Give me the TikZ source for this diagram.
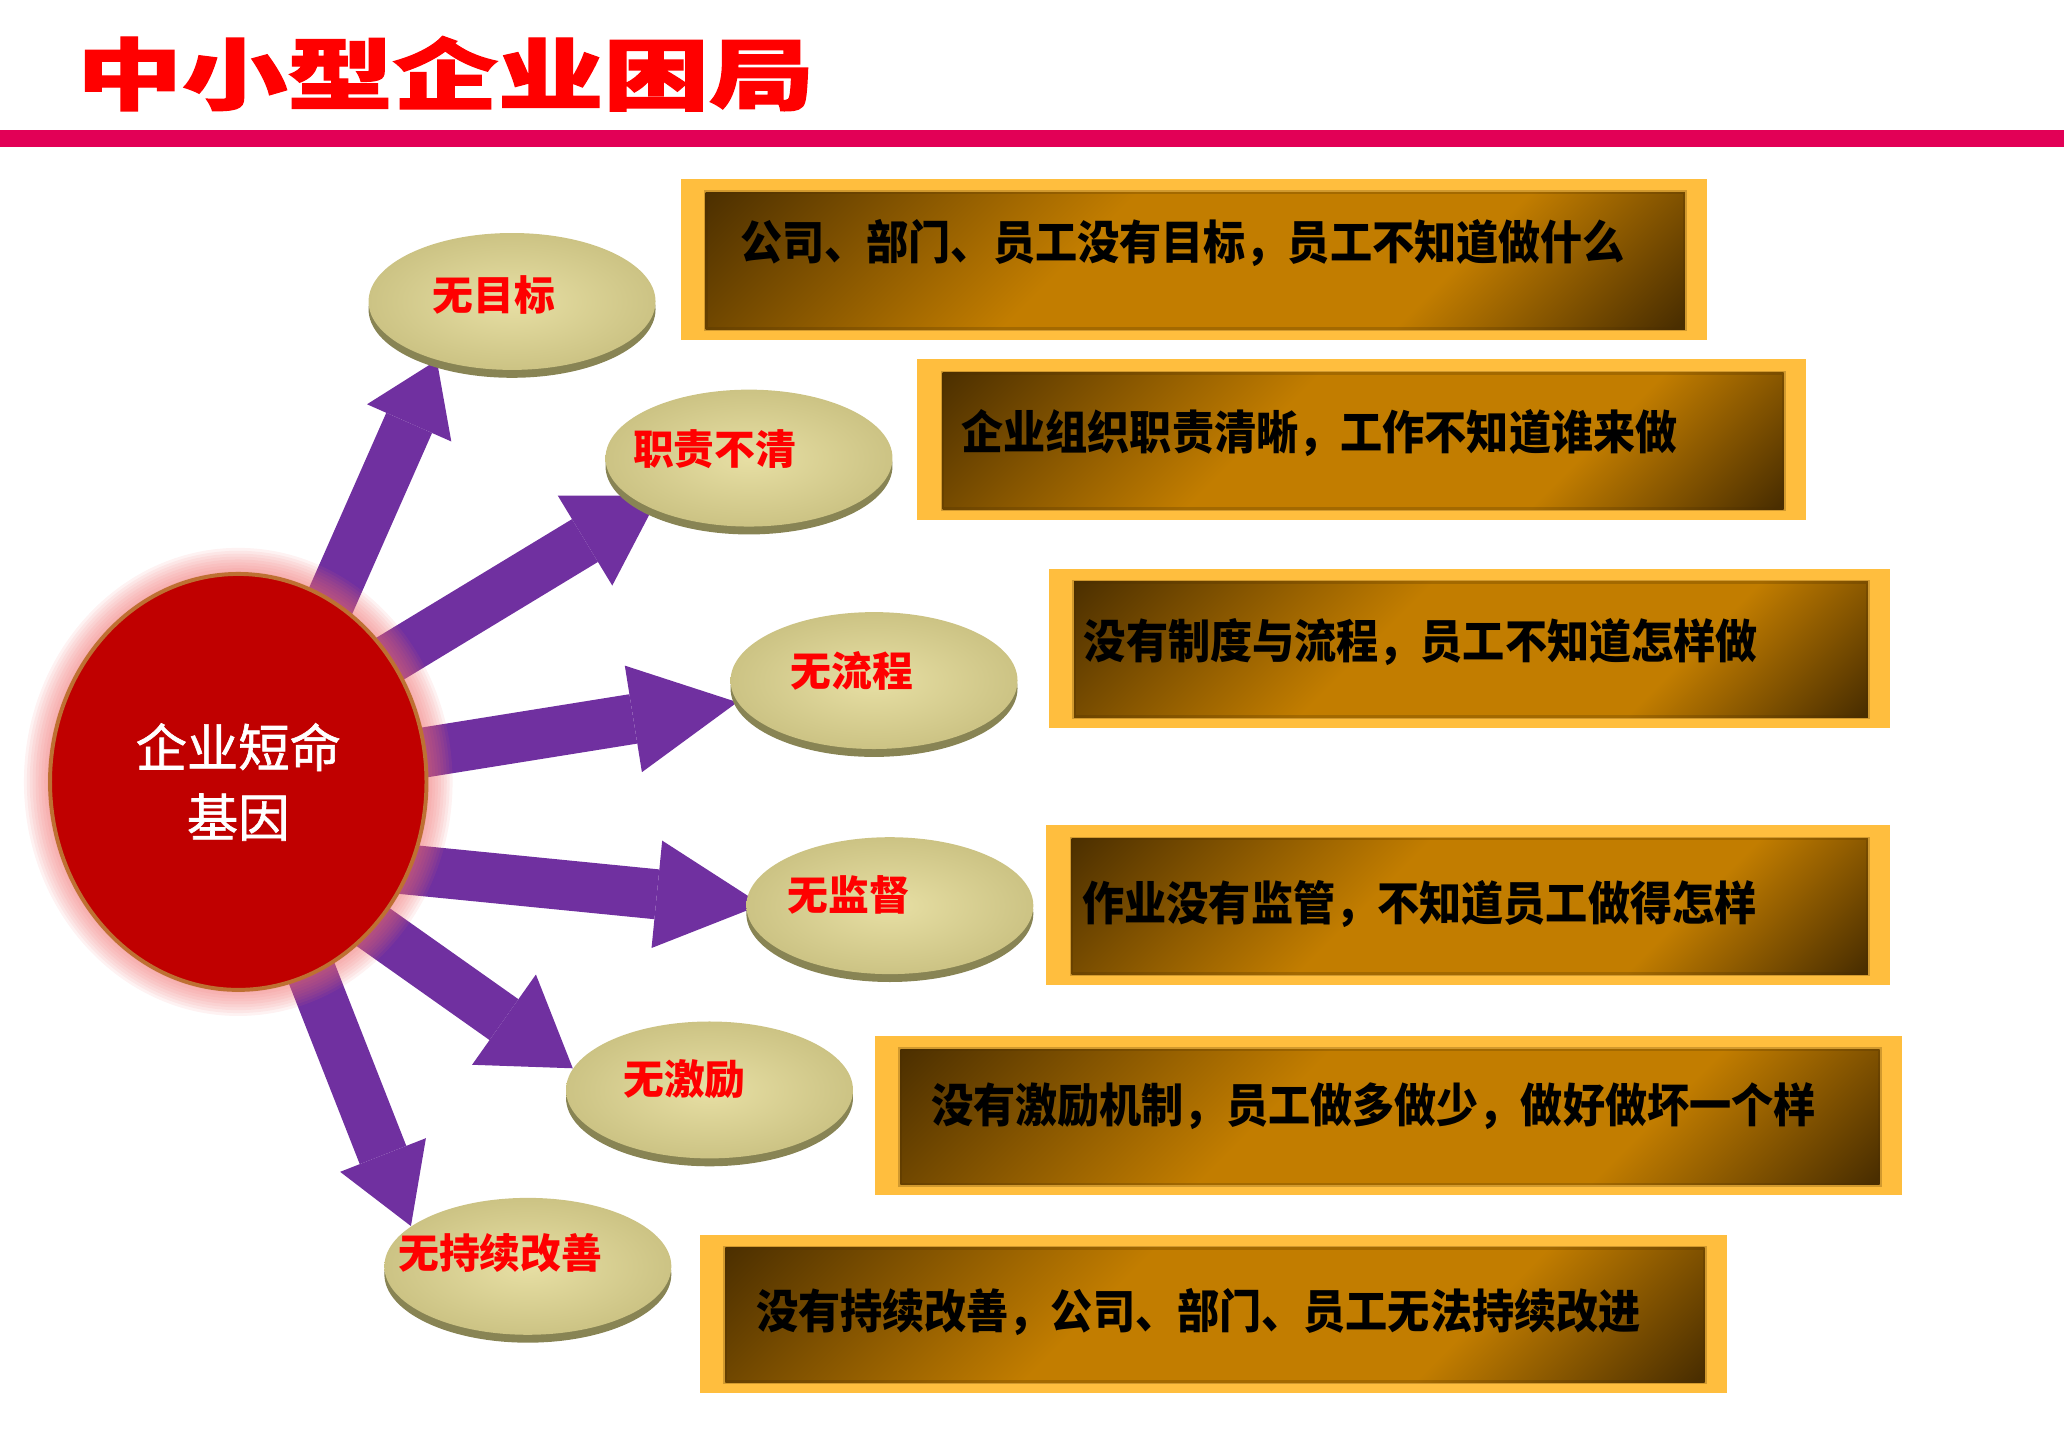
\documentclass[tikz,border=0pt]{standalone}
\usepackage{fontspec}
\usepackage{graphicx}
\setmainfont{Noto Sans CJK SC}
\newfontfamily\titlefont{Noto Sans CJK SC}[BoldFeatures={FakeBold=1.5}]
\newfontfamily\hubfont{Noto Sans CJK SC}[FakeBold=1.2]
\usetikzlibrary{arrows.meta,shapes.geometric,backgrounds}
\definecolor{titlered}{RGB}{255,0,0}
\definecolor{barred}{RGB}{226,0,86}
\definecolor{purp}{RGB}{112,48,160}
\definecolor{circred}{RGB}{192,0,0}
\definecolor{circedge}{RGB}{190,112,50}
\definecolor{glowc}{RGB}{240,110,110}
\definecolor{discface}{RGB}{231,223,164}
\definecolor{discedge}{RGB}{204,195,132}
\definecolor{discrim}{RGB}{136,132,84}
\definecolor{boxframe}{RGB}{255,190,62}
\definecolor{boxdark}{RGB}{74,46,0}
\definecolor{boxmid}{RGB}{194,125,0}
\pgfdeclareverticalshading{boxshade}{100bp}{color(0bp)=(boxdark); color(15bp)=(boxdark); color(33bp)=(boxmid); color(58bp)=(boxmid); color(86bp)=(boxdark); color(100bp)=(boxdark)}
\begin{document}
\begin{tikzpicture}[x=0.5pt,y=-0.5pt,
  arr/.style={draw=purp, line width=19pt, shorten <=-30pt},
  disc/.style={ellipse, minimum width=109pt, minimum height=52pt, inner sep=0pt, inner color=discface, outer color=discedge},
  disclabel/.style={text=titlered, font=\bfseries\fontsize{15.5}{18}\selectfont, inner sep=0pt},
  boxtext/.style={anchor=west, text=black, font=\bfseries\fontsize{16}{19}\selectfont, inner sep=0pt},
  hub/.style={ellipse, minimum width=143pt, minimum height=158pt, fill=circred, draw=circedge, line width=1.5pt, text=white, align=center, font=\hubfont\fontsize{19.5}{26.5}\selectfont}
]
\useasboundingbox (0,0) rectangle (1568,1094);

% title and bar
\node[anchor=west, text=titlered, font=\titlefont\bfseries\fontsize{40}{44}\selectfont, inner sep=0pt] (title) at (58,56) {\scalebox{1}[0.74]{中小型企业困局}};
\fill[barred] (0,99) rectangle (1568,112);

% boxes
\foreach \n/\xa/\ya/\xb/\yb/\tx/\ty/\t in {
  1/517/136/1297/258/562/185/{公司、部门、员工没有目标，员工不知道做什么},
  2/697/273/1372/395/730/329/{企业组织职责清晰，工作不知道谁来做},
  3/797/432/1436/553/823/488/{没有制度与流程，员工不知道怎样做},
  4/795/627/1436/748/822/687/{作业没有监管，不知道员工做得怎样},
  5/665/787/1445/908/707/840/{没有激励机制，员工做多做少，做好做坏一个样},
  6/532/938/1312/1058/574/997/{没有持续改善，公司、部门、员工无法持续改进}}{
  \fill[boxframe] (\xa,\ya) rectangle (\xb,\yb);
  \shade[shading=boxshade, shading angle=45] (\xa+19,\ya+10) rectangle (\xb-17,\yb-8);
  \draw[boxdark, draw opacity=0.25, line width=1.5pt] (\xa+19,\ya+10) rectangle (\xb-17,\yb-8);
  \node[boxtext] (b\n) at (\tx,\ty) {\scalebox{1}[1.1]{\t}};
}

% glow and hub
\foreach \r in {1,...,9}
  \fill[glowc, opacity=0.09] (181,594) ellipse [x radius=71.5pt+\r*1.1pt, y radius=79pt+\r*1.1pt];
\node[hub] (c) at (181,594) {企业短命\\基因};

% discs
\foreach \n/\x/\y/\lx/\ly/\t in {
  1/389/229/375/224/无目标,
  2/569/348/543/341/职责不清,
  3/664/517/647/510/无流程,
  4/676/688/645/680/无监督,
  5/539/828/520/820/无激励,
  6/401/962/380/952/无持续改善}{
  \fill[discrim] (\x,\y+6) ellipse [x radius=54.5pt, y radius=26pt];
  \node[disc] (e\n) at (\x,\y) {};
  \node[disclabel] (l\n) at (\lx,\ly) {\t};
}

% arrows
\begin{pgfonlayer}{background}
\draw[arr, -{Triangle[length=26pt,width=35pt,line width=0pt]}] (c.63.3) -- (e1.218);
\draw[arr, shorten >=-7pt, -{Triangle[length=33pt,width=40pt,line width=0pt]}] (c.39.1) -- (e2.204);
\draw[arr, -{Triangle[length=40pt,width=41pt,line width=0pt]}] (c.9.6) -- (e3.189);
\draw[arr, shorten >=-6pt, -{Triangle[length=40pt,width=41pt,line width=0pt]}] (c.-27.8) -- (e4.179);
\draw[arr, -{Triangle[length=32pt,width=42pt,line width=0pt]}] (c.-47.6) -- (e5.171.5);
\draw[arr, -{Triangle[length=29pt,width=35pt,line width=0pt]}] (c.-69.2) -- (e6.161.6);
\end{pgfonlayer}
\end{tikzpicture}
\end{document}
